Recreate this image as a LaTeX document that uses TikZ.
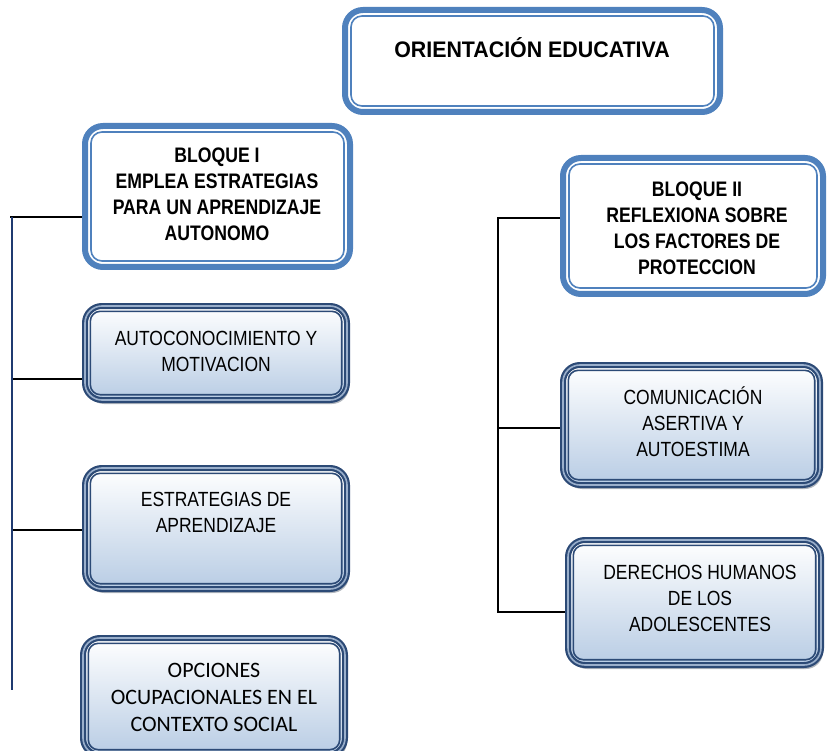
\documentclass[tikz,border=0pt]{standalone}
\usepackage{fontspec}
\setmainfont{Liberation Sans}
\newfontfamily\regf[FakeStretch=0.853]{Liberation Sans}
\newfontfamily\bldf[FakeStretch=0.84]{Liberation Sans}
\newfontfamily\titf[FakeStretch=0.95]{Liberation Sans}
\newfontfamily\calf{Carlito}
\usetikzlibrary{shadows}
\definecolor{bb}{HTML}{4F81BD}
\definecolor{dk}{HTML}{2C4A76}
\definecolor{stripe}{HTML}{9AAFCB}
\definecolor{lb}{HTML}{B8CCE4}
\definecolor{trunk}{HTML}{1F3A70}
\newcommand\fl{\rule{0pt}{20pt}}
\newcommand\innerframe[3]{\draw[#2] ([xshift=#3,yshift=-#3]#1.north west) rectangle ([xshift=-#3,yshift=#3]#1.south east);}
\begin{document}
\begin{tikzpicture}[x=1pt,y=-1pt,
  bluebox/.style={draw=bb, line width=6pt, outer sep=3pt, inner sep=0pt, rounded corners=18pt, fill=white},
  blueinner/.style={draw=bb, line width=1.6pt, rounded corners=11pt},
  darkbox/.style={draw=dk, double=stripe, line width=2.2pt, double distance=1.6pt, outer sep=3pt, inner sep=0pt, rounded corners=17pt, top color=white, bottom color=lb, drop shadow={shadow xshift=2pt, shadow yshift=-4pt, fill=gray!70!dk, opacity=0.5}},
  darkinner/.style={draw=dk, line width=1.6pt, rounded corners=10pt},
  tx/.style={anchor=north, inner sep=0pt, align=center},
  regtext/.style={font=\regf\fontsize{20.5}{26}\selectfont},
  boldtext/.style={font=\bldf\bfseries\fontsize{21}{26}\selectfont},
  conn/.style={draw=black, line width=1.2pt},
  trunkline/.style={draw=trunk, line width=1.6pt}]
\useasboundingbox (0,0) rectangle (827,751);

% boxes
\node[bluebox, minimum width=375pt, minimum height=102pt] (top) at (532.5,61) {};
\innerframe{top}{blueinner}{9pt}
\node[bluebox, minimum width=265pt, minimum height=141pt] (b1) at (217.5,196.5) {};
\innerframe{b1}{blueinner}{9pt}
\node[bluebox, minimum width=260pt, minimum height=136pt] (b5) at (693,226) {};
\innerframe{b5}{blueinner}{9pt}

\node[darkbox, minimum width=262pt, minimum height=94pt] (b2) at (216,353) {};
\innerframe{b2}{darkinner}{8.3pt}
\node[darkbox, minimum width=262pt, minimum height=121pt] (b3) at (216,528.5) {};
\innerframe{b3}{darkinner}{8.3pt}
\node[darkbox, minimum width=262pt, minimum height=117pt] (b4) at (214,696.5) {};
\innerframe{b4}{darkinner}{8.3pt}
\node[darkbox, minimum width=257pt, minimum height=120pt] (cas) at (691.5,425) {};
\innerframe{cas}{darkinner}{8.3pt}
\node[darkbox, minimum width=253pt, minimum height=125pt] (dh) at (694.5,602.5) {};
\innerframe{dh}{darkinner}{8.3pt}

% texts
\node[inner sep=0pt, anchor=base, font=\titf\bfseries\fontsize{22.5}{27}\selectfont] (ttl) at (532,58) {ORIENTACIÓN EDUCATIVA};
\node[tx, boldtext] (t1) at (217,142.5) {\fl BLOQUE I\\EMPLEA ESTRATEGIAS\\PARA UN APRENDIZAJE\\AUTONOMO};
\node[tx, boldtext] (t5) at (697,176.5) {\fl BLOQUE II\\REFLEXIONA SOBRE\\LOS FACTORES DE\\PROTECCION};
\node[tx, regtext] (t2) at (216,325.5) {\fl AUTOCONOCIMIENTO Y\\MOTIVACION};
\node[tx, regtext] (t3) at (216,486.5) {\fl ESTRATEGIAS DE\\APRENDIZAJE};
\node[tx, font=\calf\fontsize{22}{27}\selectfont] (t4) at (214,657) {\fl OPCIONES\\OCUPACIONALES EN EL\\CONTEXTO SOCIAL};
\node[tx, regtext] (tc) at (693,384.5) {\fl COMUNICACIÓN\\ASERTIVA Y\\AUTOESTIMA};
\node[tx, regtext] (td) at (700,559.5) {\fl DERECHOS HUMANOS\\DE LOS\\ADOLESCENTES};

% connectors left
\coordinate (L0) at (12,217);
\coordinate (L2) at (12,379);
\coordinate (L3) at (12,530);
\coordinate (Lend) at (12,690);
\coordinate (L0s) at (10,217);
\draw[conn] (L0s) -- (L0 -| b1.west);
\draw[conn] (L2) -- (L2 -| b2.west);
\draw[conn] (L3) -- (L3 -| b3.west);
\draw[trunkline] (L0) -- (Lend);

% connectors right
\coordinate (R0) at (498,218);
\coordinate (R2) at (498,428);
\coordinate (R3) at (498,612);
\draw[conn] (R0 -| b5.west) -- (R0) -- (R3) -- (R3 -| dh.west);
\draw[conn] (R2) -- (R2 -| cas.west);
\end{tikzpicture}
\end{document}
